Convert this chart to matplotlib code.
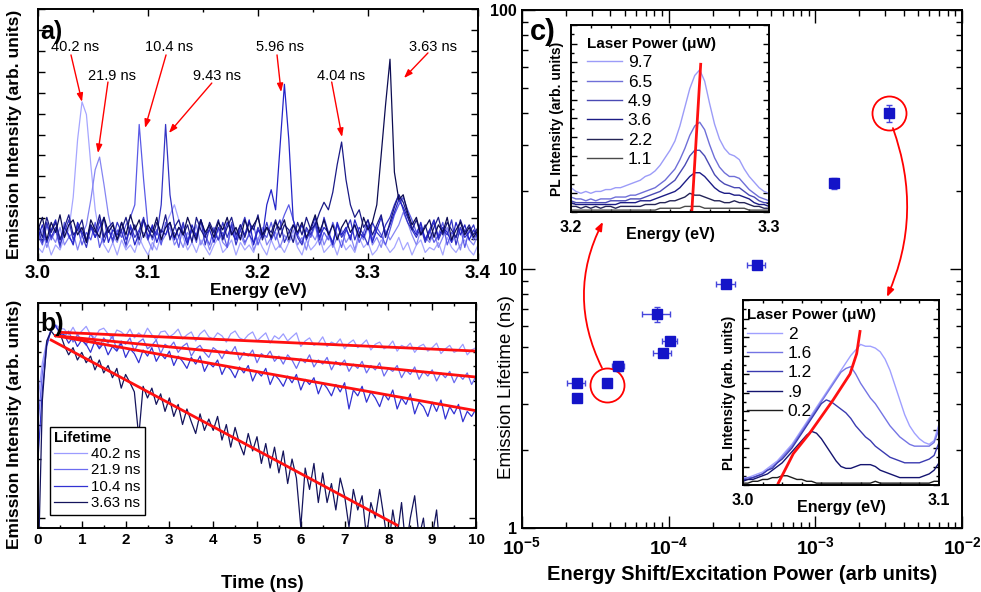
import matplotlib
matplotlib.use("Agg")
import matplotlib.pyplot as plt
import numpy as np
from matplotlib.ticker import MultipleLocator, LogLocator, NullFormatter

plt.rcParams['font.family'] = ['Liberation Sans', 'DejaVu Sans']
plt.rcParams['mathtext.fontset'] = 'custom'
plt.rcParams['mathtext.rm'] = 'Liberation Sans:bold'
plt.rcParams['mathtext.bf'] = 'Liberation Sans:bold'
plt.rcParams['axes.linewidth'] = 1.4

# ---------- panel a: emission spectra (3.000..3.400 eV, step 0.004), % of full scale
spec_labels = ['40.2 ns', '21.9 ns', '10.4 ns', '9.43 ns', '5.96 ns', '4.04 ns', '3.63 ns']
spec_40 = [5, 3, 8, 2, 6, 4, 9, 12, 25, 48,
           63, 58, 38, 20, 10, 6, 3, 7, 2, 8,
           4, 6, 3, 9, 5, 2, 7, 4, 10, 14,
           18, 22, 16, 9, 4, 7, 3, 8, 5, 2,
           6, 9, 3, 5, 8, 2, 7, 4, 6, 3,
           9, 5, 2, 8, 4, 6, 3, 7, 10, 5,
           2, 8, 4, 6, 9, 3, 5, 7, 2, 8,
           4, 6, 3, 9, 5, 7, 2, 4, 8, 6,
           3, 5, 9, 4, 7, 2, 6, 8, 3, 5,
           4, 7, 2, 9, 5, 3, 6, 8, 4, 2,
           6]
spec_21 = [8, 12, 5, 10, 7, 13, 6, 9, 11, 4,
           10, 14, 24, 36, 41, 30, 18, 10, 7, 12,
           5, 9, 13, 6, 11, 8, 4, 12, 7, 10,
           13, 6, 9, 5, 11, 8, 14, 6, 10, 4,
           9, 12, 7, 5, 13, 8, 10, 6, 11, 4,
           8, 13, 6, 9, 11, 5, 10, 7, 12, 6,
           9, 4, 11, 8, 13, 6, 10, 5, 9, 12,
           7, 10, 4, 11, 8, 13, 6, 9, 5, 12,
           8, 11, 14, 19, 15, 10, 6, 12, 9, 7,
           11, 5, 9, 13, 7, 10, 4, 12, 8, 6,
           10]
spec_10 = [10, 6, 14, 8, 12, 5, 15, 9, 7, 13,
           6, 11, 8, 15, 5, 10, 13, 7, 12, 9,
           14, 17, 22, 54, 32, 13, 8, 12, 6, 15,
           9, 11, 5, 14, 8, 12, 7, 16, 10, 6,
           13, 8, 11, 5, 15, 9, 12, 7, 10, 14,
           6, 11, 9, 15, 8, 13, 18, 22, 16, 10,
           7, 12, 9, 14, 6, 11, 8, 15, 10, 5,
           12, 9, 14, 7, 11, 16, 8, 13, 10, 6,
           12, 18, 22, 25, 20, 16, 11, 14, 8, 12,
           7, 10, 15, 6, 11, 9, 13, 5, 12, 8,
           11]
spec_9 = [12, 7, 15, 9, 13, 6, 11, 16, 8, 14,
          10, 5, 13, 9, 16, 7, 12, 8, 15, 11,
          6, 14, 9, 12, 17, 8, 13, 10, 22, 54,
          26, 14, 9, 15, 7, 12, 10, 16, 6, 13,
          11, 8, 15, 9, 14, 6, 12, 17, 10, 7,
          13, 9, 15, 8, 12, 16, 7, 11, 14, 9,
          6, 13, 10, 15, 8, 17, 11, 7, 14, 9,
          12, 16, 8, 13, 10, 6, 15, 11, 9, 14,
          17, 22, 26, 20, 15, 12, 9, 13, 7, 11,
          15, 8, 12, 10, 16, 6, 13, 9, 11, 14,
          8]
spec_5 = [9, 14, 7, 12, 16, 8, 13, 10, 6, 15,
          11, 8, 14, 9, 13, 17, 7, 12, 10, 15,
          8, 13, 6, 11, 16, 9, 14, 7, 12, 10,
          15, 8, 13, 11, 6, 14, 9, 16, 10, 12,
          7, 13, 9, 15, 11, 8, 14, 10, 16, 6,
          12, 9, 22, 28, 20, 45, 70, 48, 16, 10,
          14, 8, 12, 17, 9, 13, 11, 6, 15, 10,
          13, 8, 16, 11, 9, 14, 7, 12, 17, 10,
          14, 19, 24, 21, 17, 13, 10, 15, 8, 12,
          16, 9, 13, 11, 7, 15, 10, 14, 8, 12,
          9]
spec_4 = [14, 9, 17, 11, 15, 8, 13, 18, 10, 12,
          16, 7, 14, 11, 18, 9, 13, 15, 8, 12,
          17, 10, 14, 8, 16, 12, 9, 15, 11, 18,
          8, 13, 16, 10, 14, 7, 17, 12, 9, 15,
          11, 16, 8, 13, 17, 10, 14, 9, 15, 12,
          18, 8, 13, 11, 16, 9, 14, 12, 7, 15,
          10, 17, 12, 14, 19, 23, 20, 27, 38, 47,
          32, 22, 17, 20, 13, 16, 10, 14, 18, 9,
          15, 21, 26, 23, 18, 12, 16, 10, 14, 8,
          13, 17, 10, 15, 12, 9, 16, 11, 14, 10,
          13]
spec_3 = [12, 17, 8, 15, 11, 18, 9, 14, 16, 10,
          13, 7, 16, 12, 9, 17, 11, 14, 8, 15,
          10, 18, 12, 16, 9, 14, 11, 17, 8, 13,
          15, 9, 13, 10, 17, 12, 8, 16, 11, 14,
          9, 15, 12, 17, 10, 13, 8, 16, 11, 14,
          17, 10, 13, 9, 15, 12, 16, 8, 14, 11,
          15, 9, 13, 18, 11, 16, 10, 14, 8, 13,
          16, 11, 14, 9, 17, 12, 15, 22, 42, 62,
          80, 35, 24, 26, 19, 14, 17, 10, 13, 16,
          9, 14, 11, 17, 8, 12, 15, 10, 13, 9,
          12]
spectra = [spec_40, spec_21, spec_10, spec_9, spec_5, spec_4, spec_3]
spec_colors = ['#a6a6ff', '#8585f2', '#5a5ae6', '#3434c4', '#2424c8', '#1a1a86', '#0c0c52']

# ---------- panel b: decay traces (0..10 ns, step 0.1), arb. units x100
decay_labels = ['40.2 ns', '21.9 ns', '10.4 ns', '3.63 ns']
decay_40 = [40, 62, 80, 92, 97, 93, 92, 86, 94, 85,
            90, 95, 86, 83, 91, 93, 87, 82, 91, 89,
            85, 92, 83, 88, 84, 93, 86, 81, 89, 90,
            84, 87, 92, 82, 86, 89, 80, 87, 91, 84,
            82, 88, 85, 79, 87, 90, 83, 81, 86, 89,
            80, 84, 88, 78, 85, 82, 87, 80, 84, 88,
            75, 80, 83, 76, 78, 84, 75, 79, 77, 82,
            73, 78, 81, 74, 77, 81, 72, 77, 79, 73,
            75, 80, 71, 76, 74, 78, 70, 75, 77, 71,
            74, 78, 69, 73, 76, 70, 72, 77, 68, 72,
            74]
decay_21 = [30, 55, 78, 90, 95, 88, 84, 90, 79, 86,
            81, 76, 87, 80, 74, 83, 78, 85, 72, 80,
            77, 83, 71, 79, 82, 73, 76, 81, 69, 77,
            74, 79, 70, 75, 78, 67, 73, 76, 70, 66,
            74, 71, 65, 72, 69, 75, 64, 70, 67, 72,
            62, 69, 66, 71, 63, 67, 61, 68, 64, 58,
            65, 62, 68, 59, 64, 61, 66, 57, 63, 60,
            64, 56, 61, 58, 63, 55, 60, 57, 62, 53,
            58, 56, 60, 52, 57, 54, 59, 51, 56, 53,
            57, 50, 55, 52, 56, 49, 54, 51, 55, 48,
            53]
decay_10 = [20, 45, 75, 92, 96, 88, 86, 78, 84, 75,
            81, 77, 70, 80, 73, 78, 68, 75, 71, 78,
            66, 73, 69, 62, 72, 67, 74, 63, 69, 65,
            71, 60, 67, 63, 58, 66, 61, 67, 56, 62,
            59, 64, 54, 60, 57, 52, 59, 55, 60, 50,
            56, 53, 58, 48, 54, 51, 47, 53, 49, 54,
            45, 51, 48, 52, 43, 49, 46, 42, 48, 44,
            49, 36, 45, 42, 47, 39, 44, 41, 37, 43,
            40, 45, 36, 41, 38, 43, 34, 39, 37, 33,
            39, 35, 40, 32, 37, 34, 38, 31, 35, 33,
            36]
decay_3 = [5, 40, 80, 90, 84, 88, 76, 68, 74, 64,
           70, 62, 67, 57, 64, 55, 60, 52, 58, 46,
           54, 49, 44, 26, 47, 41, 46, 38, 43, 35,
           41, 33, 38, 30, 36, 31, 27, 34, 28, 32,
           28, 33, 25, 30, 23, 29, 24, 21, 27, 22,
           26, 19, 24, 18, 23, 17, 22, 15, 20, 16,
           9, 18, 14, 19, 12, 17, 12, 15, 11, 16,
           13, 9, 14, 11, 13, 8, 12, 10, 14, 10,
           7, 11, 8, 12, 7, 10, 13, 8, 10, 6,
           8, 11, 6, 8, 5, 9, 6, 7, 4, 8,
           6]
decays = [decay_40, decay_21, decay_10, decay_3]
decay_colors = ['#9c9cff', '#6c6cf0', '#3232d2', '#14145c']
# exponential fits: start/end time (ns) and start/end intensity (x100)
fit_t = [[0.5, 10.0], [0.4, 10.0], [0.4, 10.0], [0.3, 8.2]]
fit_v = [[88.6, 71.1], [85.1, 52.4], [85.1, 35.3], [80.9, 9.2]]

# ---------- panel c: lifetime vs energy shift / excitation power
lt_x = [2.37e-5, 2.37e-5, 3.82e-5, 4.54e-5, 8.36e-5, 1.02e-4, 9.1e-5, 2.47e-4, 3.98e-4, 1.35e-3, 3.19e-3]
lt_y = [3.64, 3.17, 3.64, 4.22, 6.68, 5.29, 4.73, 8.73, 10.4, 21.4, 40.1]
lt_xerr = [0.33e-5, 0, 0.15e-5, 0.45e-5, 1.8e-5, 1.2e-5, 1.25e-5, 0.37e-4, 0.57e-4, 0.3e-4, 0.4e-4]
lt_yerr = [0.1, 0, 0.1, 0.17, 0.45, 0.15, 0.15, 0.3, 0.2, 1.1, 3.0]

# inset 1: 3.200..3.300 eV step 0.0025, x100
ins1_labels = ['9.7', '6.5', '4.9', '3.6', '2.2', '1.1']
ins1_97 = [13, 11, 10, 11, 10, 11, 11, 12, 12, 13, 13, 14, 15, 16, 17, 19, 20, 22, 25, 29,
           33, 38, 46, 56, 66, 73, 76, 70, 58, 47, 39, 34, 31, 30, 28, 23, 19, 16, 13, 11, 10]
ins1_65 = [8, 7, 7, 6, 7, 6, 7, 7, 7, 8, 8, 8, 9, 9, 10, 11, 12, 13, 15, 17,
           20, 23, 28, 34, 41, 46, 48, 44, 36, 29, 24, 21, 19, 19, 18, 15, 12, 10, 8, 7, 6]
ins1_49 = [6, 5, 5, 5, 5, 5, 5, 5, 6, 6, 6, 6, 7, 7, 7, 8, 9, 10, 11, 13,
           15, 17, 21, 25, 30, 33, 33, 30, 25, 20, 17, 15, 14, 13, 13, 11, 9, 8, 6, 5, 5]
ins1_36 = [5, 4, 4, 4, 4, 4, 4, 4, 4, 4, 5, 5, 5, 5, 6, 6, 6, 7, 8, 9,
           10, 11, 13, 16, 19, 21, 21, 19, 16, 13, 11, 10, 10, 9, 9, 8, 7, 5, 4, 4, 3]
ins1_22 = [3, 3, 2, 3, 2, 3, 2, 3, 3, 2, 3, 3, 3, 3, 3, 4, 4, 4, 5, 5,
           6, 6, 7, 8, 10, 9, 9, 8, 7, 6, 6, 5, 5, 6, 5, 5, 4, 3, 3, 2, 2]
ins1_11 = [1, 1, 1, 1, 1, 1, 1, 1, 1, 1, 1, 1, 1, 1, 1, 1, 1, 1, 2, 2,
           2, 2, 2, 3, 3, 3, 3, 2, 2, 2, 2, 2, 2, 2, 2, 2, 1, 1, 1, 1, 1]
ins1 = [ins1_97, ins1_65, ins1_49, ins1_36, ins1_22, ins1_11]
ins1_colors = ['#9c9cf8', '#6f6fd8', '#4a4ab4', '#1c1c86', '#242456', '#4a4a4a']
ins1_fit_e = [3.261, 3.2655]
ins1_fit_v = [0, 79]

# inset 2: 3.000..3.100 eV step 0.0025, x100
ins2_labels = ['2', '1.6', '1.2', '.9', '0.2']
ins2_20 = [4, 4, 5, 6, 7, 9, 11, 13, 16, 19, 22, 26, 30, 34, 38, 42, 46, 50, 54, 58,
           62, 66, 70, 73, 76, 75, 75, 74, 72, 68, 62, 54, 46, 38, 32, 28, 25, 23, 22, 24, 33]
ins2_16 = [3, 4, 4, 5, 6, 8, 10, 12, 15, 18, 21, 25, 29, 33, 37, 41, 45, 49, 53, 57,
           61, 63, 64, 60, 55, 51, 47, 44, 40, 36, 32, 29, 26, 24, 22, 21, 21, 21, 21, 23, 30]
ins2_12 = [3, 3, 4, 5, 6, 8, 9, 12, 14, 17, 20, 24, 28, 32, 36, 40, 44, 46, 45, 43,
           41, 39, 36, 32, 29, 26, 24, 21, 19, 17, 15, 14, 13, 12, 12, 12, 12, 13, 14, 16, 23]
ins2_09 = [2, 3, 3, 4, 5, 6, 8, 10, 12, 15, 18, 21, 24, 27, 29, 28, 25, 21, 17, 13,
           10, 9, 9, 10, 11, 11, 11, 10, 8, 7, 6, 5, 4, 4, 4, 4, 4, 5, 6, 8, 12]
ins2_02 = [1, 1, 2, 2, 3, 3, 4, 4, 5, 5, 4, 3, 3, 2, 2, 1, 1, 1, 1, 1,
           1, 1, 1, 1, 1, 1, 1, 2, 1, 1, 1, 1, 1, 1, 1, 1, 1, 1, 1, 2, 2]
ins2 = [ins2_20, ins2_16, ins2_12, ins2_09, ins2_02]
ins2_colors = ['#a0a0ff', '#7474e4', '#3a3ab0', '#141470', '#1e1e1e']
ins2_fit_e = [3.018, 3.0257, 3.034, 3.046, 3.0546, 3.058, 3.0597]
ins2_fit_v = [1, 17, 28, 46, 60, 71, 83]


def rect(l, t, r, b):
    return [l / 981, 1 - b / 592, (r - l) / 981, (b - t) / 592]


def style(ax, major=5, minor=2.5):
    ax.tick_params(which='both', direction='in', top=True, right=True, width=1)
    ax.tick_params(which='major', length=major)
    ax.tick_params(which='minor', length=minor)


fig = plt.figure(figsize=(9.81, 5.92), dpi=100)
ax_a = fig.add_axes(rect(38, 9, 478, 260))
ax_b = fig.add_axes(rect(38, 303, 476, 528))
ax_c = fig.add_axes(rect(522, 10, 962, 528))
ax_i1 = fig.add_axes(rect(571, 25, 769, 212))
ax_i2 = fig.add_axes(rect(743, 300, 939, 485))

# ---- a)
energy = np.linspace(3.0, 3.4, len(spec_40))
for vals, col in zip(spectra, spec_colors):
    ax_a.plot(energy, np.array(vals) / 100, color=col, lw=0.9)
ax_a.set_xlim(3.0, 3.4)
ax_a.set_ylim(0, 1)
ax_a.xaxis.set_major_locator(MultipleLocator(0.1))
ax_a.xaxis.set_minor_locator(MultipleLocator(0.05))
ax_a.yaxis.set_major_locator(MultipleLocator(1 / 12))
ax_a.xaxis.set_major_formatter(matplotlib.ticker.FormatStrFormatter('%.1f'))
style(ax_a)
ax_a.tick_params(labelleft=False)
for lab in ax_a.get_xticklabels():
    lab.set_fontweight('bold')
    lab.set_fontsize(13.5)
ax_a.set_xlabel('Energy (eV)', fontsize=12.5, fontweight='bold', labelpad=1)
ax_a.set_ylabel('Emission Intensity (arb. units)', fontsize=12.5, fontweight='bold')
ax_a.yaxis.set_label_coords(-0.037, 0.5)
ax_a.text(0.006, 0.955, 'a)', transform=ax_a.transAxes, fontsize=18, fontweight='bold', va='top')
# label positions (text, tail, head) in data coords
ann = [((3.0336, 0.849), (3.030, 0.817), (3.040, 0.63)),
       ((3.0673, 0.733), (3.0636, 0.709), (3.0545, 0.426)),
       ((3.119, 0.849), (3.1164, 0.817), (3.0973, 0.526)),
       ((3.1627, 0.733), (3.158, 0.705), (3.119, 0.506)),
       ((3.220, 0.849), (3.2173, 0.817), (3.221, 0.669)),
       ((3.2755, 0.733), (3.267, 0.709), (3.2764, 0.49)),
       ((3.359, 0.849), (3.3545, 0.825), (3.3327, 0.725))]
for lab, (txy, tail, head) in zip(spec_labels, ann):
    ax_a.text(txy[0], txy[1], lab, fontsize=10.5, ha='center', va='center')
    ax_a.annotate('', xy=head, xytext=tail,
                  arrowprops=dict(arrowstyle='-|>,head_length=0.5,head_width=0.18',
                                  color='red', lw=1, shrinkA=0, shrinkB=0))

# ---- b)
time = np.linspace(0, 10, len(decay_40))
handles = []
for vals, col, lab in zip(decays, decay_colors, decay_labels):
    h, = ax_b.plot(time, np.array(vals) / 100, color=col, lw=0.9, label=lab)
    handles.append(h)
for ft, fv in zip(fit_t, fit_v):
    ax_b.plot(ft, np.array(fv) / 100, color='#ff1010', lw=2)
ax_b.set_yscale('log')
ax_b.set_xlim(0, 10)
ax_b.set_ylim(0.089, 1.25)
ax_b.xaxis.set_major_locator(MultipleLocator(1))
ax_b.xaxis.set_minor_locator(MultipleLocator(0.5))
style(ax_b)
ax_b.tick_params(labelleft=False, which='both')
ax_b.yaxis.set_minor_formatter(NullFormatter())
ax_b.yaxis.set_major_formatter(NullFormatter())
for lab in ax_b.get_xticklabels():
    lab.set_fontweight('bold')
    lab.set_fontsize(11)
ax_b.set_xlabel('Time (ns)', fontsize=13.5, fontweight='bold')
ax_b.xaxis.set_label_coords(0.511, -0.21)
ax_b.set_ylabel('Emission Intensity (arb. units)', fontsize=12.5, fontweight='bold')
ax_b.yaxis.set_label_coords(-0.037, 0.46)
ax_b.text(0.006, 0.96, 'b)', transform=ax_b.transAxes, fontsize=18, fontweight='bold', va='top')
leg = ax_b.legend(handles=handles, title='Lifetime', loc='lower left',
                  bbox_to_anchor=(0.027, 0.06), fontsize=10.8, frameon=True,
                  fancybox=False, edgecolor='black', framealpha=1, borderpad=0.3,
                  labelspacing=0.15, handlelength=2.2, handletextpad=0.25,
                  borderaxespad=0, alignment='left',
                  title_fontproperties={'weight': 'bold', 'size': 10.8})
leg.get_frame().set_linewidth(1)

# ---- c)
ax_c.set_xscale('log')
ax_c.set_yscale('log')
ax_c.errorbar(lt_x, lt_y, xerr=lt_xerr, yerr=lt_yerr, fmt='s', ms=7, color='#1414c8',
              mec='#1414c8', ecolor='#4646dc', elinewidth=1, capsize=2.5, capthick=1)
ax_c.set_xlim(1e-5, 1e-2)
ax_c.set_ylim(1, 100)
ax_c.xaxis.set_minor_locator(LogLocator(base=10, subs=np.arange(2, 10), numticks=20))
ax_c.yaxis.set_minor_locator(LogLocator(base=10, subs=np.arange(2, 10), numticks=20))
ax_c.xaxis.set_minor_formatter(NullFormatter())
ax_c.yaxis.set_minor_formatter(NullFormatter())
ax_c.set_xticks([1e-5, 1e-4, 1e-3, 1e-2], [r'10$^{-5}$', r'10$^{-4}$', r'10$^{-3}$', r'10$^{-2}$'])
ax_c.set_yticks([1, 10, 100], ['1', '10', '100'])
style(ax_c, major=9, minor=4.5)
for lab in ax_c.get_xticklabels():
    lab.set_fontweight('bold')
    lab.set_fontsize(14)
for lab in ax_c.get_yticklabels():
    lab.set_fontweight('bold')
    lab.set_fontsize(11.5)
ax_c.tick_params(axis='x', pad=6)
ax_c.set_xlabel('Energy Shift/Excitation Power (arb units)', fontsize=14.5, fontweight='bold')
ax_c.xaxis.set_label_coords(0.5, -0.072)
ax_c.set_ylabel('Emission Lifetime (ns)', fontsize=13.5)
ax_c.yaxis.set_label_coords(-0.016, 0.272)
ax_c.text(0.018, 0.985, 'c)', transform=ax_c.transAxes, fontsize=21, fontweight='bold', va='top')
# red circles around the two highlighted points
ax_c.plot([lt_x[2], lt_x[10]], [3.56, lt_y[10]], 'o', ms=24.5, mfc='none', mec='red', mew=1.3)
ax_c.annotate('', xy=(3.56e-5, 15.2), xytext=(3.51e-5, 4.15),
              arrowprops=dict(arrowstyle='-|>,head_length=0.5,head_width=0.2', color='red',
                              lw=1.3, shrinkA=0, shrinkB=0, connectionstyle='arc3,rad=-0.25'))
ax_c.annotate('', xy=(3.08e-3, 7.8), xytext=(3.38e-3, 35.0),
              arrowprops=dict(arrowstyle='-|>,head_length=0.5,head_width=0.2', color='red',
                              lw=1.3, shrinkA=0, shrinkB=0, connectionstyle='arc3,rad=-0.2'))

# ---- insets
def inset(ax, e0, e1, curves, colors, labels, fit_e, fit_v, legend_anchor):
    e = np.linspace(e0, e1, len(curves[0]))
    hs = []
    for vals, col, lab in zip(curves, colors, labels):
        h, = ax.plot(e, np.array(vals) / 100, color=col, lw=1, label=lab)
        hs.append(h)
    ax.plot(fit_e, np.array(fit_v) / 100, color='#ff1010', lw=2)
    ax.set_xlim(e0, e1)
    ax.set_ylim(0, 1)
    ax.set_xticks([e0, e1], ['%.1f' % e0, '%.1f' % e1])
    ax.xaxis.set_minor_locator(MultipleLocator(0.01))
    ax.yaxis.set_major_locator(MultipleLocator(0.1))
    ax.yaxis.set_minor_locator(MultipleLocator(0.05))
    style(ax, major=4, minor=2)
    ax.tick_params(labelleft=False)
    ax.tick_params(axis='x', which='major', length=0, pad=6)
    for lab in ax.get_xticklabels():
        lab.set_fontweight('bold')
        lab.set_fontsize(11.5)
    ax.set_xlabel('Energy (eV)', fontsize=11.5, fontweight='bold', labelpad=-6)
    ax.set_ylabel('PL Intensity (arb. units)', fontsize=10, fontweight='bold', labelpad=2)
    lg = ax.legend(handles=hs, title='Laser Power (\u03bcW)', loc='upper left',
                   bbox_to_anchor=legend_anchor, frameon=False, fontsize=12.5,
                   labelspacing=0.24, handlelength=2.0, handletextpad=0.35,
                   borderaxespad=0, borderpad=0, alignment='left',
                   title_fontproperties={'weight': 'bold', 'size': 11})
    return lg


inset(ax_i1, 3.2, 3.3, ins1, ins1_colors, ins1_labels, ins1_fit_e, ins1_fit_v, (0.08, 0.935))
inset(ax_i2, 3.0, 3.1, ins2, ins2_colors, ins2_labels, ins2_fit_e, ins2_fit_v, (0.02, 0.955))

fig.savefig('out.png', dpi=100)
